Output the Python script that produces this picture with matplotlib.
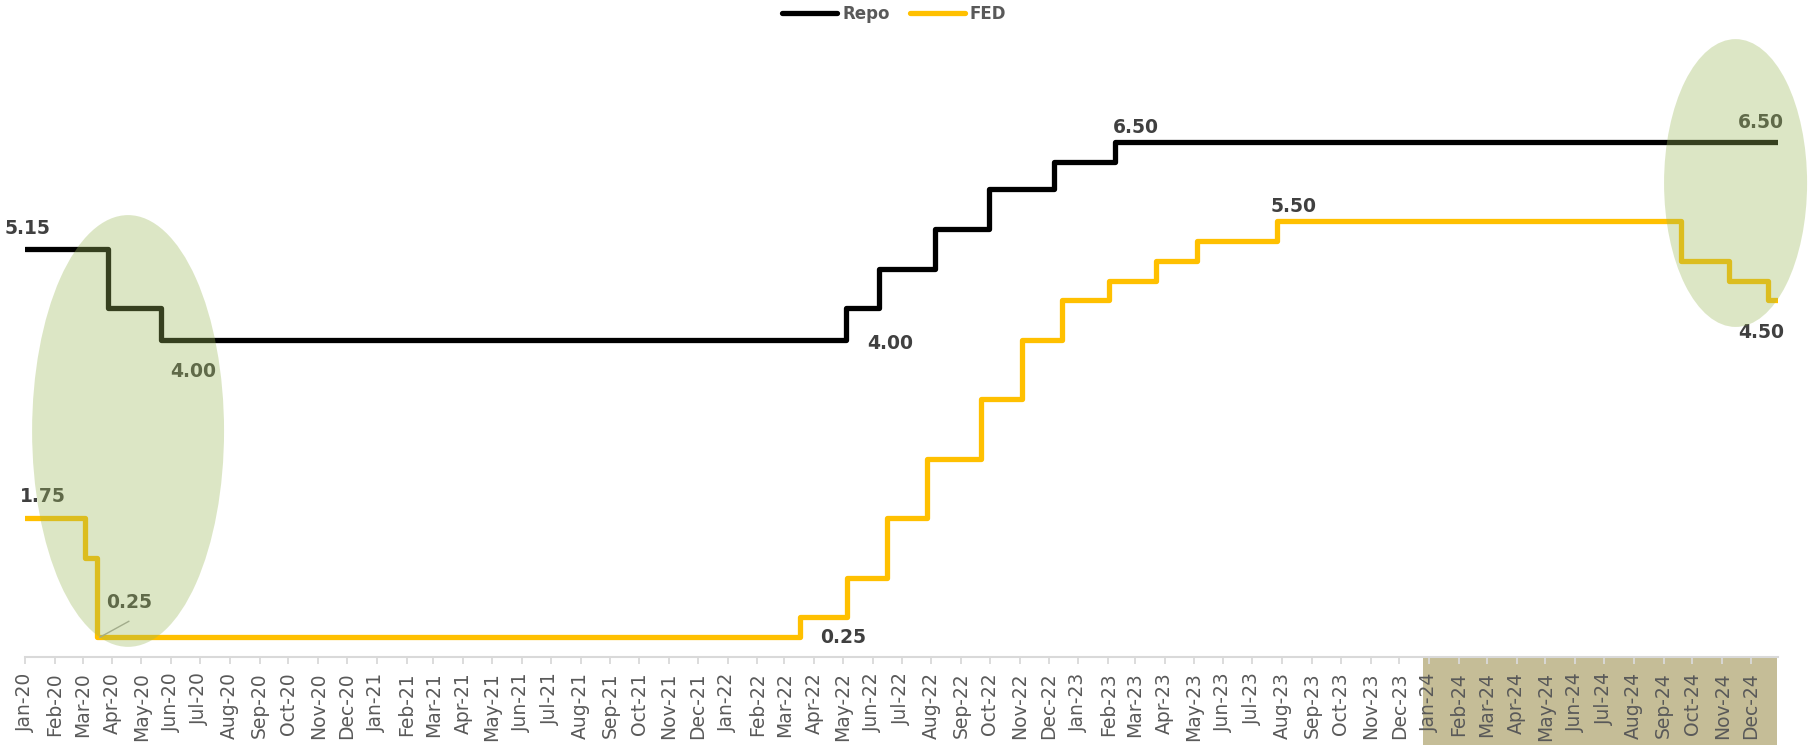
import matplotlib
matplotlib.use('Agg')
import matplotlib.pyplot as plt
import matplotlib.dates as mdates
import matplotlib.transforms as mtransforms
from matplotlib.patches import Ellipse, Rectangle
import pandas as pd

# Policy rate change dates and the new rate from each date on
repo_dates = ['2020-01-01', '2020-03-27', '2020-05-22', '2022-05-04', '2022-06-08',
              '2022-08-05', '2022-09-30', '2022-12-07', '2023-02-08']
repo_rates = [5.15, 4.40, 4.00, 4.40, 4.90, 5.40, 5.90, 6.25, 6.50]

fed_dates = ['2020-01-01', '2020-03-03', '2020-03-16', '2022-03-17', '2022-05-05',
             '2022-06-16', '2022-07-28', '2022-09-22', '2022-11-03', '2022-12-15',
             '2023-02-02', '2023-03-23', '2023-05-04', '2023-07-27', '2024-09-19',
             '2024-11-08', '2024-12-19']
fed_rates = [1.75, 1.25, 0.25, 0.50, 1.00, 1.75, 2.50, 3.25, 4.00, 4.50,
             4.75, 5.00, 5.25, 5.50, 5.00, 4.75, 4.50]

end_date = '2024-12-29'

# value labels: (text, date, y)
labels = [
    ('5.15', '2020-01-04', 5.41),
    ('4.00', '2020-06-24', 3.60),
    ('1.75', '2020-01-20', 2.03),
    ('0.25', '2020-04-18', 0.69),
    ('4.00', '2022-06-19', 3.96),
    ('0.25', '2022-05-01', 0.24),
    ('6.50', '2023-03-02', 6.68),
    ('5.50', '2023-08-13', 5.69),
    ('6.50', '2024-12-11', 6.74),
    ('4.50', '2024-12-11', 4.10),
]

repo_x = pd.to_datetime(repo_dates + [end_date])
repo_y = repo_rates + [repo_rates[-1]]
fed_x = pd.to_datetime(fed_dates + [end_date])
fed_y = fed_rates + [fed_rates[-1]]

fig = plt.figure(figsize=(18.12, 7.45), dpi=100)
ax = fig.add_axes([25 / 1812, 88 / 745, 1753 / 1812, 634 / 745])

ax.step(repo_x, repo_y, where='post', color='black', linewidth=3.8,
        solid_capstyle='round', solid_joinstyle='round', label='Repo', zorder=3)
ax.step(fed_x, fed_y, where='post', color='#FFC000', linewidth=3.8,
        solid_capstyle='round', solid_joinstyle='round', label='FED', zorder=3)

for txt, d, y in labels:
    ax.text(pd.Timestamp(d), y, txt, ha='center', va='center', fontsize=13.5,
            fontweight='heavy', color='#404040', zorder=4)

# leader line for the 0.25 label
ax.plot(pd.to_datetime(['2020-03-19', '2020-04-18']), [0.25, 0.45],
        color='#A6A6A6', linewidth=1, zorder=4)

ax.set_xlim(pd.Timestamp('2020-01-01'), pd.Timestamp(end_date))
ax.set_ylim(0, 8)

# highlight ellipses over the rate moves
for cx, cy, w, h in [(0.0588, 0.3565, 0.1095, 0.681), (0.9758, 0.7476, 0.0816, 0.454)]:
    ax.add_patch(Ellipse((cx, cy), w, h, transform=ax.transAxes, facecolor='#9CB95A',
                         edgecolor='none', alpha=0.35, zorder=5, clip_on=False))

# shaded band behind the 2024 tick labels
trans = mtransforms.blended_transform_factory(ax.transData, ax.transAxes)
x0 = mdates.date2num(pd.Timestamp('2023-12-26'))
x1 = mdates.date2num(pd.Timestamp('2024-12-28'))
ax.add_patch(Rectangle((x0, -0.15), x1 - x0, 0.15, transform=trans,
                       facecolor='#C5BD97', edgecolor='none', zorder=0.5, clip_on=False))

ax.xaxis.set_major_locator(mdates.MonthLocator())
ax.xaxis.set_major_formatter(mdates.DateFormatter('%b-%y'))
ax.tick_params(axis='x', rotation=90, labelsize=13.5, labelcolor='#595959',
               color='#D9D9D9', length=5, width=1.3, pad=6)
ax.set_yticks([])
for side in ['top', 'right', 'left']:
    ax.spines[side].set_visible(False)
ax.spines['bottom'].set_color('#D9D9D9')
ax.spines['bottom'].set_linewidth(1.5)

fig.legend(loc='upper center', bbox_to_anchor=(894 / 1812, 1.014), ncol=2, frameon=False,
           prop={'weight': 'bold', 'size': 12}, labelcolor='#595959',
           handlelength=3.3, handletextpad=0.3, columnspacing=1.2)

fig.savefig('out.png', dpi=100)
